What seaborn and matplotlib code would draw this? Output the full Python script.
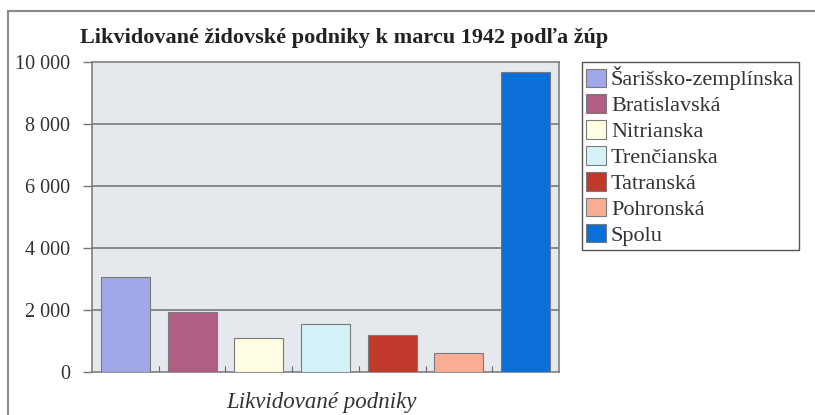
import numpy as np
import seaborn as sns
import matplotlib.pyplot as plt
from matplotlib.lines import Line2D

# data
zupy = ['Šarišsko-zemplínska', 'Bratislavská', 'Nitrianska', 'Trenčianska',
        'Tatranská', 'Pohronská', 'Spolu']
podniky = [3050, 1930, 1110, 1540, 1200, 600, 9680]
farby = ['#a0a8ea', '#b15e84', '#fffde2', '#d3f3f9', '#c0392a', '#f8ad94', '#0b6fd8']
y_ticky = [0, 2000, 4000, 6000, 8000, 10000]
y_popisy = ['0', '2 000', '4 000', '6 000', '8 000', '10 000']

sns.set_theme(style='white')
plt.rcParams['font.family'] = ['Liberation Serif', 'DejaVu Serif']

fig = plt.figure(figsize=(8.15, 4.15), dpi=100)
ax = fig.add_axes([92 / 815, 1 - 372 / 415, 467 / 815, 310 / 415])
ax.set_facecolor('#e5e8ec')

sns.barplot(x=zupy, y=podniky, hue=zupy, palette=farby, width=0.735, saturation=1,
            edgecolor='#7a7a7a', linewidth=0.8, legend=True, ax=ax, zorder=3)

ax.set_ylim(0, 10000)
ax.set_xlim(-0.5, len(zupy) - 0.5)
ax.set_yticks(y_ticky, labels=y_popisy)
for y in y_ticky[1:-1]:
    ax.axhline(y, color='#6f6f6f', lw=1.1, zorder=1)

ax.set_xticks(np.arange(len(zupy) - 1) + 0.5, labels=[])
ax.tick_params(axis='x', direction='in', length=4, width=0.8, color='#666666', bottom=True)
ax.tick_params(axis='y', direction='out', length=6.5, width=1.0, color='#777777',
               left=True, labelsize=14.5, labelcolor='#333333', pad=9)
for s in ax.spines.values():
    s.set_color('#7f7f7f')
    s.set_linewidth(1.2)
ax.set_xlabel('')
ax.set_ylabel('')

h, l = ax.get_legend_handles_labels()
ax.legend(h, l, loc='upper left', bbox_to_anchor=(582 / 815, 1 - 62 / 415),
          bbox_transform=fig.transFigure, frameon=True, fancybox=False,
          edgecolor='#555555', framealpha=1, prop={'size': 16},
          handlelength=0.9, handleheight=0.9, handletextpad=0.2,
          labelspacing=0.18, borderpad=0.2, borderaxespad=0)
for t in ax.get_legend().get_texts():
    t.set_color('#333333')

fig.text(80 / 815, 1 - 43 / 415, 'Likvidované židovské podniky k marcu 1942 podľa žúp',
         fontsize=16, fontweight='bold', color='#222222', va='baseline')
fig.text(321 / 815, 1 - 408 / 415, 'Likvidované podniky', fontsize=16.5,
         style='italic', color='#333333', ha='center', va='baseline')

# outer frame of the figure
fig.add_artist(Line2D([8 / 815, 1], [1 - 11 / 415, 1 - 11 / 415],
                      transform=fig.transFigure, color='#8a8a8a', lw=1.5))
fig.add_artist(Line2D([8 / 815, 8 / 815], [0, 1 - 11 / 415],
                      transform=fig.transFigure, color='#8a8a8a', lw=1.5))

fig.savefig('out.png', dpi=100)
